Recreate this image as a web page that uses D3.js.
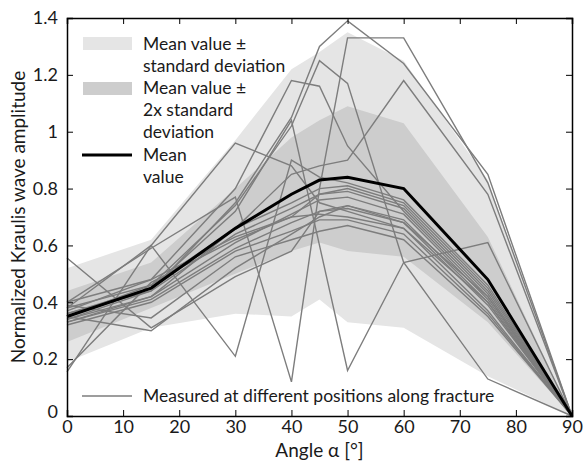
<!DOCTYPE html>
<html><head><meta charset="utf-8">
<script src="https://cdn.jsdelivr.net/npm/d3@7"></script>
<style>
body{margin:0;background:#fff;}
text{font-family:Lato,"Open Sans",sans-serif;fill:#1a1a1a;}
</style></head>
<body><svg id="c" width="584" height="462"></svg>
<script>
const angles = [0, 15, 30, 40, 45, 50, 60, 75, 90];
const meanVals  = [0.35, 0.45, 0.66, 0.78, 0.83, 0.84, 0.80, 0.48, 0];
const band1Upper = [0.52, 0.62, 0.97, 1.22, 1.28, 1.35, 1.25, 0.83, 0];
const band1Lower = [0.19, 0.31, 0.36, 0.35, 0.41, 0.33, 0.31, 0.14, 0];
const band2Upper = [0.44, 0.54, 0.80, 0.98, 1.04, 1.09, 1.03, 0.63, 0];
const band2Lower = [0.26, 0.38, 0.50, 0.58, 0.61, 0.58, 0.56, 0.33, 0];
const measured = [
  [0.155, 0.60, 0.21, 0.90, 0.84, 0.82, 0.76, 0.46, 0],
  [0.17, 0.47, 0.62, 0.70, 0.78, 0.80, 0.74, 0.44, 0],
  [0.556, 0.31, 0.49, 0.58, 0.72, 0.74, 0.68, 0.42, 0],
  [0.38, 0.60, 0.96, 0.88, 0.75, 0.72, 0.66, 0.40, 0],
  [0.40, 0.59, 0.77, 0.12, 0.80, 1.33, 1.33, 0.82, 0],
  [0.36, 0.45, 0.72, 1.04, 0.60, 0.16, 0.54, 0.61, 0],
  [0.34, 0.44, 0.75, 1.05, 1.30, 1.39, 1.24, 0.85, 0],
  [0.37, 0.48, 0.80, 1.18, 1.16, 0.95, 0.72, 0.42, 0],
  [0.35, 0.46, 0.74, 1.02, 1.25, 1.17, 0.54, 0.13, 0],
  [0.33, 0.42, 0.66, 0.85, 0.88, 0.90, 1.18, 0.78, 0],
  [0.38, 0.46, 0.66, 0.75, 0.80, 0.81, 0.75, 0.45, 0],
  [0.36, 0.44, 0.64, 0.73, 0.78, 0.79, 0.73, 0.43, 0],
  [0.34, 0.42, 0.61, 0.71, 0.76, 0.77, 0.71, 0.41, 0],
  [0.33, 0.41, 0.59, 0.68, 0.72, 0.73, 0.68, 0.39, 0],
  [0.40, 0.48, 0.63, 0.70, 0.71, 0.70, 0.66, 0.37, 0],
  [0.32, 0.40, 0.58, 0.65, 0.69, 0.69, 0.64, 0.36, 0],
  [0.39, 0.345, 0.56, 0.62, 0.65, 0.67, 0.62, 0.35, 0],
  [0.35, 0.30, 0.52, 0.64, 0.70, 0.74, 0.69, 0.40, 0]
];
const xTicks = [0, 10, 20, 30, 40, 50, 60, 70, 80, 90];
const yTicks = [0, 0.2, 0.4, 0.6, 0.8, 1, 1.2, 1.4];
const legendLabels = [["Mean value \u00b1", "standard deviation"], ["Mean value \u00b1", "2x standard", "deviation"], ["Mean", "value"]];
const bottomLegendLabel = "Measured at different positions along fracture";
const xLabel = "Angle \u03b1 [\u00b0]";
const yLabel = "Normalized Kraulis wave amplitude";

const colLight = "#e5e5e5", colDark = "#cdcdcd", colGray = "#7d7d7d";
const L = 67, R = 572, T = 18, B = 416;
const svg = d3.select("#c");
const x = d3.scaleLinear().domain([0, 90]).range([L, R]);
const y = d3.scaleLinear().domain([0, 1.4]).range([B, T]);

const area = (up, lo) => d3.area().x((d, i) => x(angles[i])).y0((d, i) => y(lo[i])).y1((d, i) => y(up[i]))(angles);
svg.append("path").attr("d", area(band1Upper, band1Lower)).attr("fill", colLight);
svg.append("path").attr("d", area(band2Upper, band2Lower)).attr("fill", colDark);

const line = d3.line().x((d, i) => x(angles[i])).y(d => y(d));
svg.append("g").selectAll("path").data(measured).join("path")
  .attr("d", line).attr("fill", "none").attr("stroke", colGray).attr("stroke-width", 1.4).attr("stroke-linejoin", "miter");
svg.append("path").attr("d", line(meanVals)).attr("fill", "none").attr("stroke", "#000").attr("stroke-width", 3);

// axes (inward ticks, box)
const fs = 17.5;
const gx = svg.append("g").attr("transform", `translate(0,${B})`)
  .call(d3.axisBottom(x).tickValues(xTicks).tickSize(-6).tickPadding(5).tickFormat(d3.format("~g")));
const gxt = svg.append("g").attr("transform", `translate(0,${T})`)
  .call(d3.axisTop(x).tickValues(xTicks).tickSize(-6).tickFormat(""));
const gy = svg.append("g").attr("transform", `translate(${L},0)`)
  .call(d3.axisLeft(y).tickValues(yTicks).tickSize(-6).tickPadding(9).tickFormat(d3.format("~g")));
const gyr = svg.append("g").attr("transform", `translate(${R},0)`)
  .call(d3.axisRight(y).tickValues(yTicks).tickSize(-6).tickFormat(""));
[gx, gxt, gy, gyr].forEach(g => {
  g.select(".domain").attr("stroke", "#000").attr("stroke-width", 1.5);
  g.selectAll(".tick line").attr("stroke", "#000").attr("stroke-width", 1);
  g.selectAll("text").attr("font-size", 18).attr("font-family", "Lato, 'Open Sans', sans-serif").attr("fill", "#1a1a1a");
});
gx.selectAll(".tick text").attr("dy", "0.65em");
gy.selectAll(".tick").filter(d => d === 0).select("text").attr("dy", "0.1em");

svg.append("text").attr("x", (L + R) / 2).attr("y", 457).attr("text-anchor", "middle").attr("font-size", 19).text(xLabel);
svg.append("text").attr("transform", `translate(25,${(T + B) / 2}) rotate(-90)`).attr("text-anchor", "middle").attr("font-size", 19).text(yLabel);

// legend
const lg = svg.append("g");
lg.append("rect").attr("x", 83).attr("y", 37).attr("width", 49).attr("height", 13).attr("fill", colLight);
lg.append("rect").attr("x", 83).attr("y", 82).attr("width", 49).attr("height", 13).attr("fill", colDark);
lg.append("line").attr("x1", 82).attr("x2", 132).attr("y1", 155).attr("y2", 155).attr("stroke", "#000").attr("stroke-width", 3);
const starts = [44, 88, 155];
legendLabels.forEach((lines, k) => {
  lines.forEach((t, j) => {
    lg.append("text").attr("x", 143).attr("y", starts[k] + j * 22).attr("dy", "0.35em").attr("font-size", fs).text(t);
  });
});
lg.append("line").attr("x1", 82).attr("x2", 132).attr("y1", 396).attr("y2", 396).attr("stroke", colGray).attr("stroke-width", 1.4);
lg.append("text").attr("x", 143).attr("y", 396).attr("dy", "0.35em").attr("font-size", fs).text(bottomLegendLabel);
</script></body></html>
